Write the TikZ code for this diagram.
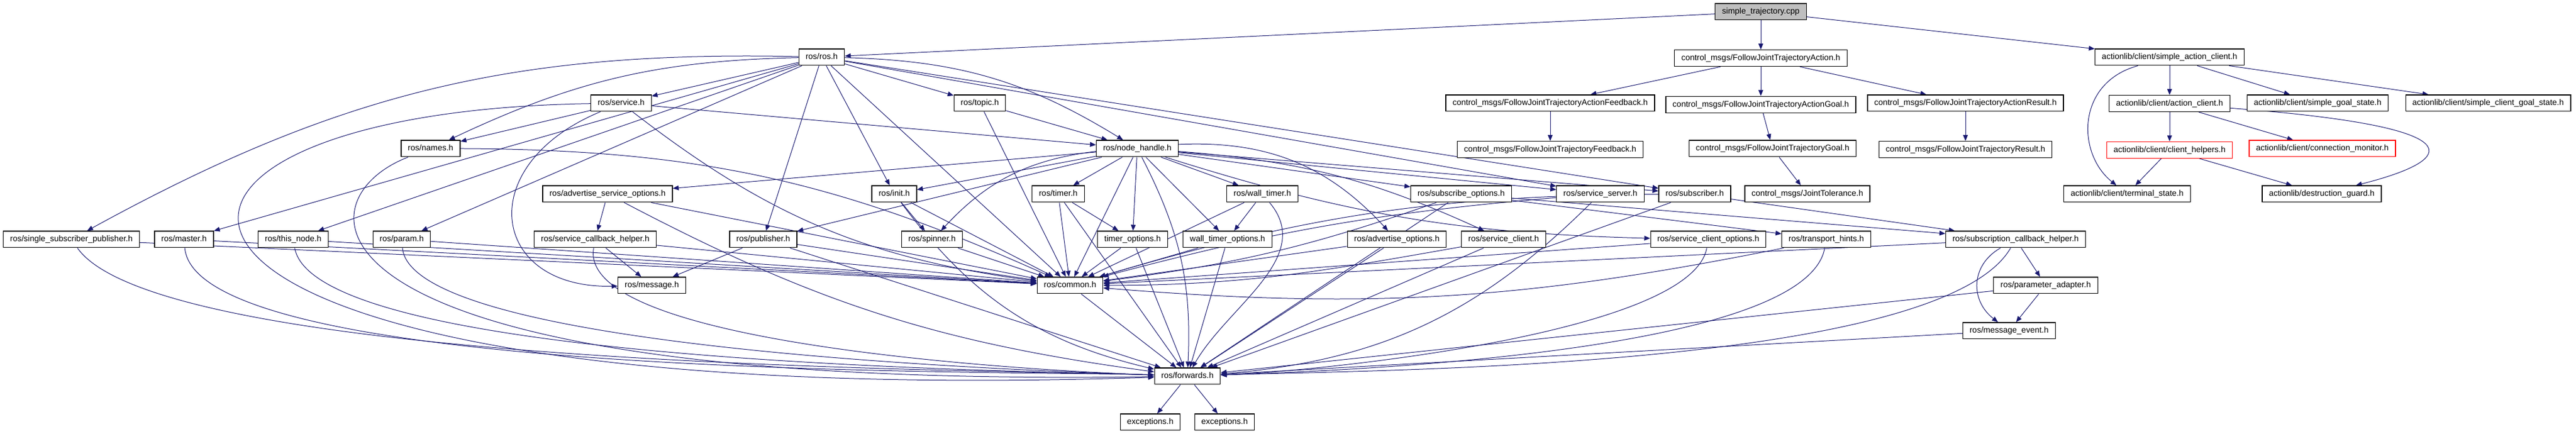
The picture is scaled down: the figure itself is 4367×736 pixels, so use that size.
\documentclass[tikz,border=0pt]{standalone}
\usepackage{fontspec}
\setmainfont{Liberation Sans}
\usetikzlibrary{arrows.meta,positioning,calc}
\definecolor{edgeblue}{HTML}{191970}
\pgfdeclarelayer{background}
\pgfsetlayers{background,main}

\begin{document}
\begin{tikzpicture}
[x=0.05pt, y=-0.05pt, node distance=2.475pt, >={Triangle[length=0.5pt,width=0.4pt]},
block/.style = 
{draw, shape=rectangle, fill=white, line width=0.06pt, inner xsep=0.575pt, inner ysep=0pt,
 minimum height=1.4pt, text height=0.55pt, text depth=0.15pt, font=\fontsize{0.7}{0.8}\selectfont},
cut/.style = {block, draw=red},
link/.style = {draw, ->, edgeblue, line width=0.05pt},
tofwdL/.style = {out=-80, in=178, looseness=0.35},
tofwdR/.style = {out=-100, in=2, looseness=0.45}]
\useasboundingbox (0,0) rectangle (4367,736);

% rows 0-1
\node [block, fill=gray!50] (main) at (2985,20) {simple\_trajectory.cpp};
\node [block] (ros) at (1393,97) {ros/ros.h};
\node [block, below=of main] (fjta) {control\_msgs/FollowJointTrajectoryAction.h};
\node [block] (sac) at (3678,97) {actionlib/client/simple\_action\_client.h};

% row 2
\node [block] (service) at (1053,175) {ros/service.h};
\node [block] (topic) at (1661,175) {ros/topic.h};
\node [block] (fjtaf) at (2628,175) {control\_msgs/FollowJointTrajectoryActionFeedback.h};
\node [block, below=of fjta] (fjtag) {control\_msgs/FollowJointTrajectoryActionGoal.h};
\node [block] (fjtar) at (3332,175) {control\_msgs/FollowJointTrajectoryActionResult.h};
\node [block, below=of sac] (ac) {actionlib/client/action\_client.h};
\node [block] (sgs) at (3929,175) {actionlib/client/simple\_goal\_state.h};
\node [block] (scgs) at (4218,175) {actionlib/client/simple\_client\_goal\_state.h};

% row 3
\node [block] (names) at (730,252) {ros/names.h};
\node [block] (nh) at (1928,252) {ros/node\_handle.h};
\node [block, below=of fjtaf] (fjtf) {control\_msgs/FollowJointTrajectoryFeedback.h};
\node [block] (fjtg) at (3005,252) {control\_msgs/FollowJointTrajectoryGoal.h};
\node [block, below=of fjtar] (fjtr) {control\_msgs/FollowJointTrajectoryResult.h};
\node [cut, below=of ac] (helpers) {actionlib/client/client\_helpers.h};
\node [cut] (conmon) at (3937,252) {actionlib/client/connection\_monitor.h};

% row 4
\node [block] (aso) at (1030,329) {ros/advertise\_service\_options.h};
\node [block] (init) at (1516,329) {ros/init.h};
\node [block] (timer) at (1794,329) {ros/timer.h};
\node [block] (wtimer) at (2140,329) {ros/wall\_timer.h};
\node [block] (subopt) at (2477,329) {ros/subscribe\_options.h};
\node [block] (ssrv) at (2713,329) {ros/service\_server.h};
\node [block] (sub) at (2873,329) {ros/subscriber.h};
\node [block] (jtol) at (3064,329) {control\_msgs/JointTolerance.h};
\node [block] (term) at (3606,329) {actionlib/client/terminal\_state.h};
\node [block] (dguard) at (3936,329) {actionlib/destruction\_guard.h};

% row 5
\node [block] (ssp) at (121,406) {ros/single\_subscriber\_publisher.h};
\node [block] (master) at (312,406) {ros/master.h};
\node [block] (thisnode) at (497,406) {ros/this\_node.h};
\node [block] (param) at (681,406) {ros/param.h};
\node [block] (sch) at (1009,406) {ros/service\_callback\_helper.h};
\node [block] (pub) at (1294,406) {ros/publisher.h};
\node [block] (spinner) at (1580,406) {ros/spinner.h};
\node [block] (topt) at (1920,406) {timer\_options.h};
\node [block] (wtopt) at (2081,406) {wall\_timer\_options.h};
\node [block] (advopt) at (2368,406) {ros/advertise\_options.h};
\node [block] (sclient) at (2549,406) {ros/service\_client.h};
\node [block] (scopt) at (2896,406) {ros/service\_client\_options.h};
\node [block] (hints) at (3096,406) {ros/transport\_hints.h};
\node [block] (subcb) at (3417,406) {ros/subscription\_callback\_helper.h};

% rows 6-9
\node [block] (msg) at (1105,484) {ros/message.h};
\node [block] (common) at (1814,484) {ros/common.h};
\node [block] (padapt) at (3468,484) {ros/parameter\_adapter.h};
\node [block] (mevent) at (3406,561) {ros/message\_event.h};
\node [block] (fwd) at (2013,638) {ros/forwards.h};
\node [block] (exc1) at (1950,716) {exceptions.h};
\node [block] (exc2) at (2076,716) {exceptions.h};

\begin{pgfonlayer}{background}
\path[link]
(main)edge(ros)(main)edge(fjta)(main)edge(sac)
(fjta)edge(fjtaf)(fjta)edge(fjtag)(fjta)edge(fjtar)
(fjtaf)edge(fjtf)(fjtag)edge(fjtg)(fjtar)edge(fjtr)(fjtg)edge(jtol)
(sac)edge(ac)(sac)edge(sgs)(sac)edge(scgs)
(ac)edge(helpers)(ac)edge(conmon)
(helpers)edge(term)(helpers)edge(dguard)

(ros)edge[bend right=15](ssp)(ros)edge(master)(ros)edge(thisnode)(ros)edge(param)
(ros)edge[bend right=12](names)(ros)edge(service)(ros)edge(topic)(ros)edge[bend left=15](nh)
(ros)edge(init)(ros)edge(pub)(ros)edge(common)(ros)edge(ssrv)(ros)edge(sub)

(service)edge(names)(service)edge(nh)(service)edge[bend right=15](common)
(topic)edge(nh)(topic)edge(common)
(names)edge[bend left=12](common)

(nh)edge(init)(nh)edge(timer)(nh)edge(wtimer)(nh)edge[bend right=20](spinner)
(nh)edge(topt)(nh)edge(wtopt)(nh)edge(pub)(nh)edge(sub)(nh)edge(ssrv)
(nh)edge[bend left=10](sclient)(nh)edge[bend left=25](advopt)(nh)edge(aso)(nh)edge(subopt)
(nh)edge[bend right=8](scopt)(nh)edge(common)(nh)edge[bend left=15](fwd)

(init)edge(spinner)(init)edge(common)(init)edge[bend right=20](fwd)
(timer)edge(topt)(timer)edge(common)(timer)edge(fwd)
(wtimer)edge(wtopt)(wtimer)edge(common)(wtimer)edge[out=-50,in=60](fwd)
(aso)edge(sch)(aso)edge(common)(aso)edge[bend right=10](fwd)
(subopt)edge(hints)(subopt)edge(subcb)(subopt)edge[bend left=6](common)(subopt)edge(fwd)
(ssrv)edge[bend right=5](common)(ssrv)edge[bend left=20](fwd)
(sub)edge(subcb)(sub)edge[bend right=8](common)(sub)edge(fwd)

(ssp)edge(common)(ssp)edge[tofwdL,out=-55](fwd)
(master)edge(common)(master)edge[tofwdL,out=-85](fwd)
(thisnode)edge(common)(thisnode)edge[tofwdL](fwd)
(param)edge(common)(param)edge[tofwdL,out=-85](fwd)
(sch)edge(msg)(sch)edge(common)(sch)edge[tofwdL,out=-100,looseness=0.45](fwd)
(pub)edge(msg)(pub)edge(common)(pub)edge(fwd)
(spinner)edge(common)
(topt)edge(common)(topt)edge(fwd)
(wtopt)edge(common)(wtopt)edge(fwd)
(advopt)edge(common)(advopt)edge(fwd)
(sclient)edge[out=190,in=0](common)(sclient)edge(fwd)
(scopt)edge(common)(scopt)edge[tofwdR](fwd)
(hints)edge[bend left=8](common)(hints)edge[tofwdR](fwd)
(subcb)edge(padapt)(subcb)edge(common)(subcb)edge[tofwdR,out=-120](fwd)
(padapt)edge(mevent)(padapt)edge(fwd)
(mevent)edge(fwd)
(common)edge(fwd)
(fwd)edge(exc1)(fwd)edge(exc2)
;
\draw[link] (service) .. controls (80,190) and (100,700) .. (fwd);
\draw[link] (names) .. controls (500,340) and (480,660) .. (fwd);
\draw[link] (service) .. controls (800,280) and (830,490) .. (msg);
\draw[link] (sac) .. controls (3520,140) and (3520,260) .. (term);
\draw[link] (ac) .. controls (4200,215) and (4170,270) .. (dguard);
\draw[link] (subcb) .. controls (3340,450) and (3340,510) .. (mevent);
\end{pgfonlayer}

\end{tikzpicture}
\end{document}
